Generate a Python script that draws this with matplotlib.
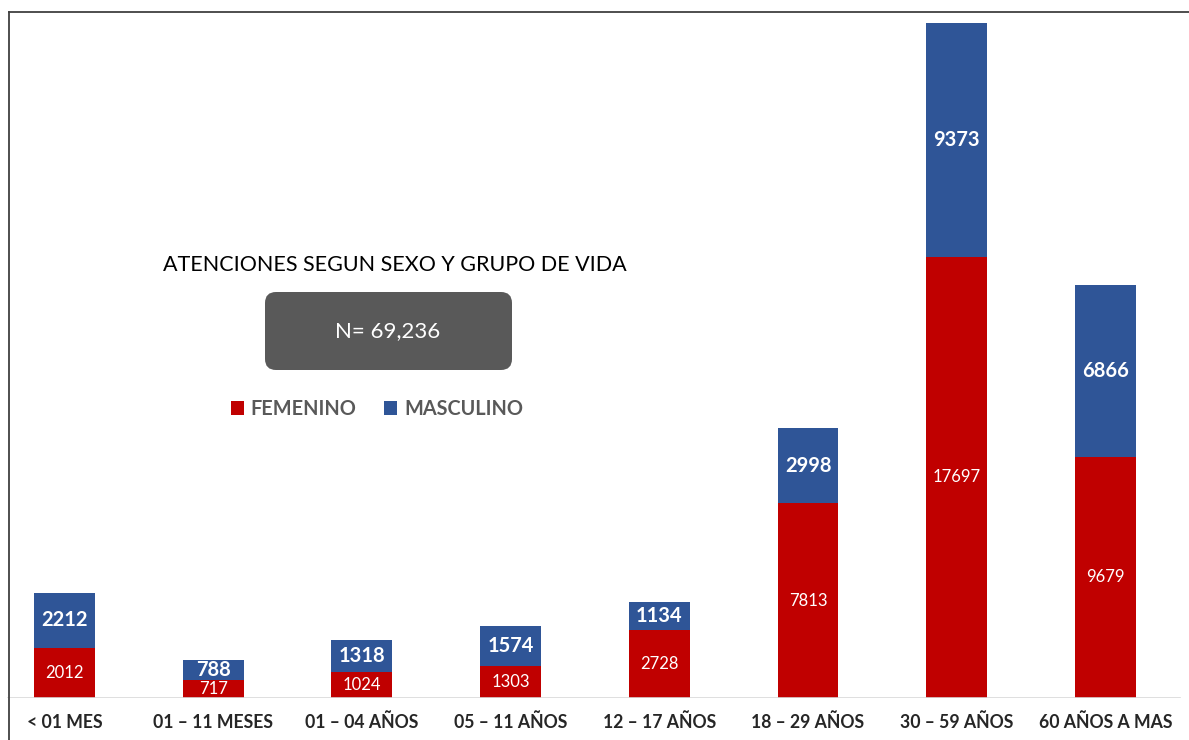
import matplotlib.pyplot as plt
import numpy as np
from matplotlib.patches import FancyBboxPatch
from matplotlib.lines import Line2D
from matplotlib.transforms import IdentityTransform

plt.rcParams['font.family'] = ['Lato', 'DejaVu Sans']

categories = ['< 01 MES', '01 – 11 MESES', '01 – 04 AÑOS', '05 – 11 AÑOS',
              '12 – 17 AÑOS', '18 – 29 AÑOS', '30 – 59 AÑOS', '60 AÑOS A MAS']
femenino = [2012, 717, 1024, 1303, 2728, 7813, 17697, 9679]
masculino = [2212, 788, 1318, 1574, 1134, 2998, 9373, 6866]
title = 'ATENCIONES SEGUN SEXO Y GRUPO DE VIDA'
total_label = 'N= 69,236'

RED = '#C00000'
BLUE = '#2F5597'
W, H = 1189, 740

fig = plt.figure(figsize=(W / 100, H / 100), dpi=100)
# axes fills from bottom baseline (y=698 px from top) to top of figure
ax = fig.add_axes([0, 42 / H, 1, 698 / H])

x = np.arange(len(categories))
fem = np.array(femenino)
mas = np.array(masculino)
b1 = ax.bar(x, fem, width=0.41, color=RED, label='FEMENINO')
b2 = ax.bar(x, mas, width=0.41, bottom=fem, color=BLUE, label='MASCULINO')

for i in range(len(x)):
    ax.text(x[i], fem[i] / 2, str(fem[i]), ha='center', va='center',
            color='white', fontsize=12)
    ax.text(x[i], fem[i] + mas[i] / 2, str(mas[i]), ha='center', va='center',
            color='white', fontsize=14.5, fontweight='bold')

# map category centers to pixel positions 64.5 + 148.7*i
ax.set_xlim(-64.5 / 148.7, (W - 64.5) / 148.7)
ax.set_ylim(0, 698 / (675 / 27070))
ax.axis('off')
ax.axhline(0, xmin=8 / W, xmax=1180 / W, color='#d9d9d9', lw=1.2)

for i, c in enumerate(categories):
    ax.text(x[i], -24 / (675 / 27070), c, ha='center', va='center',
            fontsize=12.7, fontweight='bold', color='#262626')

# outer frame (left and top visible)
fig.add_artist(Line2D([8.5 / W, 8.5 / W], [0, 1 - 12 / H], color='#404040', lw=1.3))
fig.add_artist(Line2D([8.5 / W, 1], [1 - 12 / H, 1 - 12 / H], color='#404040', lw=1.3))

fig.text(395 / W, 1 - 265 / H, title, ha='center', va='center',
         fontsize=15.5, color='black')

box = FancyBboxPatch((265, H - 370), 247, 78, boxstyle='round,pad=0,rounding_size=11',
                     transform=IdentityTransform(), facecolor='#595959', edgecolor='none')
fig.add_artist(box)
fig.text(388 / W, 1 - 331 / H, total_label, ha='center', va='center',
         fontsize=16, color='white')

leg = fig.legend(handles=[b1, b2], loc='center', bbox_to_anchor=(377 / W, 1 - 409 / H),
                 ncol=2, frameon=False, fontsize=14.3, handlelength=0.65, handleheight=0.65,
                 handletextpad=0.35, columnspacing=1.4)
for t in leg.get_texts():
    t.set_color('#595959')
    t.set_fontweight('bold')

fig.savefig('out.png', dpi=100)
